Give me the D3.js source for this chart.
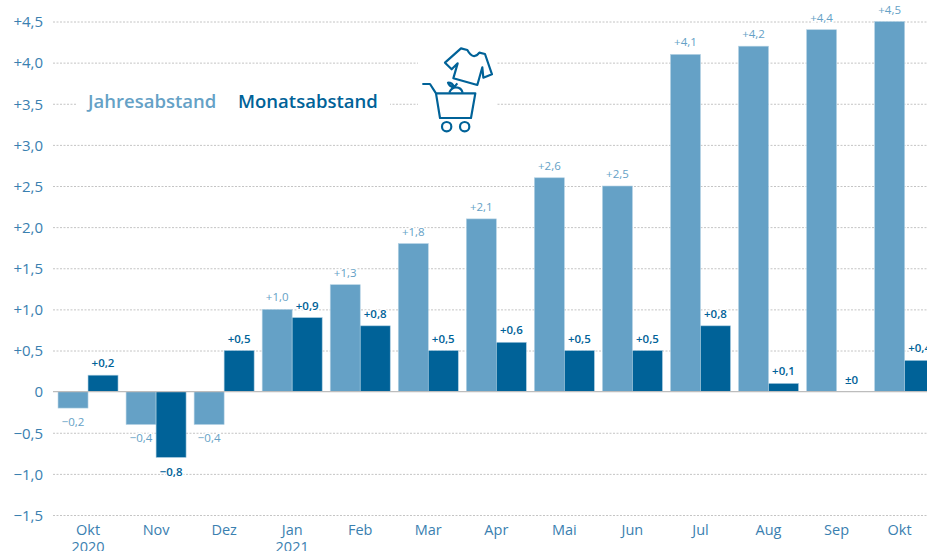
<!DOCTYPE html>
<html>
<head>
<meta charset="utf-8">
<script src="https://cdn.jsdelivr.net/npm/d3@7"></script>
<style>
html, body { margin: 0; padding: 0; background: #fff; overflow: hidden; }
text { font-family: "Open Sans", sans-serif; }
</style>
</head>
<body>
<div id="chart"></div>
<script>
const months = ["Okt", "Nov", "Dez", "Jan", "Feb", "Mar", "Apr", "Mai", "Jun", "Jul", "Aug", "Sep", "Okt"]
const years = ["2020", "", "", "2021", "", "", "", "", "", "", "", "", ""]
const jahresabstand = [-0.2, -0.4, -0.4, 1.0, 1.3, 1.8, 2.1, 2.6, 2.5, 4.1, 4.2, 4.4, 4.5]
const monatsabstand = [0.2, -0.8, 0.5, 0.9, 0.8, 0.5, 0.6, 0.5, 0.5, 0.8, 0.1, 0, 0.38]
const yTicks = [-1.5, -1, -0.5, 0, 0.5, 1, 1.5, 2, 2.5, 3, 3.5, 4, 4.5]

const lightBlue = "#65a1c6", darkBlue = "#006298", tickBlue = "#3a80b0"
const width = 927, height = 551

const svg = d3.select("#chart").append("svg")
    .attr("width", width)
    .attr("height", height)
    .style("display", "block")

const y = d3.scaleLinear().domain([-1.5, 4.5]).range([515, 21.5])

// one band per month, two bars in it
const x = d3.scaleBand()
    .domain(d3.range(months.length))
    .range([54, 54 + 68.05 * months.length])
    .paddingInner(8.05 / 68.05)
    .paddingOuter(4.025 / 68.05)
const xSeries = d3.scaleBand().domain(["jahr", "monat"]).range([0, x.bandwidth()])

// comma decimals and a real minus sign
const fmt = d3.format(".1f")
function signed(v) {
    if (v === 0) return "\u00b10"
    return (v > 0 ? "+" : "\u2212") + fmt(Math.abs(v)).replace(".", ",")
}
function tickLabel(v) {
    return v === 0 ? "0" : signed(v)
}

// Y axis, the ticks double as grid lines
const yAxis = svg.append("g")
    .attr("transform", "translate(53,0)")
    .call(d3.axisRight(y).tickValues(yTicks).tickSize(width - 53).tickFormat(tickLabel))
yAxis.select(".domain").remove()
yAxis.selectAll("line")
    .attr("stroke", "#c4c4c4")
    .attr("stroke-dasharray", "2,1.5")
yAxis.selectAll("line").filter(d => d === 0).remove()
yAxis.selectAll("text")
    .attr("x", -10)
    .attr("text-anchor", "end")
    .attr("dy", "0.35em")
    .attr("fill", tickBlue)
    .style("font-size", "15px")

// white areas that cut the grid behind legend and icon
svg.append("rect").attr("x", 77).attr("y", 85).attr("width", 313).attr("height", 36).attr("fill", "#fff")
svg.append("rect").attr("x", 418).attr("y", 45).attr("width", 78).attr("height", 92).attr("fill", "#fff")

function addBars(values, key, color) {
    svg.append("g").selectAll("rect")
        .data(values)
        .enter()
        .append("rect")
        .attr("x", (d, i) => x(i) + xSeries(key))
        .attr("y", d => y(Math.max(d, 0)))
        .attr("width", xSeries.bandwidth())
        .attr("height", d => Math.abs(y(d) - y(0)))
        .attr("fill", color)
        .attr("stroke", key === "jahr" ? "#b5d2e4" : "#a9cce0")
        .attr("stroke-width", d => d === 0 ? 0 : 0.6)
}

function addLabels(values, key, color, weight, below) {
    svg.append("g").selectAll("text")
        .data(values)
        .enter()
        .append("text")
        .attr("x", (d, i) => x(i) + xSeries(key) + xSeries.bandwidth() / 2)
        .attr("y", d => d < 0 ? y(d) + below : y(d) - 8)
        .attr("text-anchor", "middle")
        .attr("fill", color)
        .attr("stroke", "#fff")
        .attr("stroke-width", 3)
        .attr("paint-order", "stroke")
        .style("font-size", "11.5px")
        .style("font-weight", weight)
        .text(signed)
}

addBars(jahresabstand, "jahr", lightBlue)
addBars(monatsabstand, "monat", darkBlue)

// zero line
svg.append("line")
    .attr("x1", 53).attr("x2", width)
    .attr("y1", y(0)).attr("y2", y(0))
    .attr("stroke", "#bdbdbd")
    .attr("stroke-width", 1.4)

addLabels(jahresabstand, "jahr", lightBlue, 400, 17.5)
addLabels(monatsabstand, "monat", darkBlue, 600, 18.5)

// X axis
const xAxis = svg.append("g")
    .attr("transform", "translate(0,515)")
    .call(d3.axisBottom(x).tickSize(0).tickFormat(i => months[i]))
xAxis.select(".domain").remove()
xAxis.selectAll("text")
    .attr("y", 20)
    .attr("dy", 0)
    .attr("dx", (d, i) => i === months.length - 1 ? -5 : 0)
    .attr("fill", tickBlue)
    .attr("text-anchor", "middle")
    .style("font-size", "14.5px")
svg.append("g").selectAll("text")
    .data(years)
    .enter()
    .append("text")
    .attr("x", (d, i) => x(i) + x.bandwidth() / 2)
    .attr("y", 552)
    .attr("text-anchor", "middle")
    .attr("fill", tickBlue)
    .style("font-size", "14.5px")
    .text(d => d)

// legend
svg.append("text").attr("x", 88).attr("y", 108)
    .attr("fill", lightBlue)
    .style("font-size", "18.5px").style("font-weight", 600)
    .text("Jahresabstand")
svg.append("text").attr("x", 238).attr("y", 108)
    .attr("fill", darkBlue)
    .style("font-size", "18.5px").style("font-weight", 600)
    .text("Monatsabstand")

// shirt and shopping cart icon
const icon = svg.append("g")
    .attr("transform", "translate(380,30) scale(0.3333)")
    .attr("fill", "none")
    .attr("stroke", darkBlue)
    .attr("stroke-width", 6.5)
    .attr("stroke-linejoin", "round")
icon.append("path").attr("d", "M243,55 L195,98 L215,118 L233,100 L220,145 L292,165 L307,112 L310,143 L336,133 L315,72 L298,68 Q280,92 262,60 Z")
icon.append("path").attr("d", "M127,162 H150 L168,190 H286 L273,264 H180 L168,190")
icon.append("circle").attr("cx", 200).attr("cy", 290).attr("r", 14)
icon.append("circle").attr("cx", 254).attr("cy", 290).attr("r", 14)
icon.append("path").attr("d", "M208,188 Q214,172 228,172 Q244,172 248,188 M222,172 Q208,170 204,158 Q218,158 222,172 L232,160")
</script>
</body>
</html>
